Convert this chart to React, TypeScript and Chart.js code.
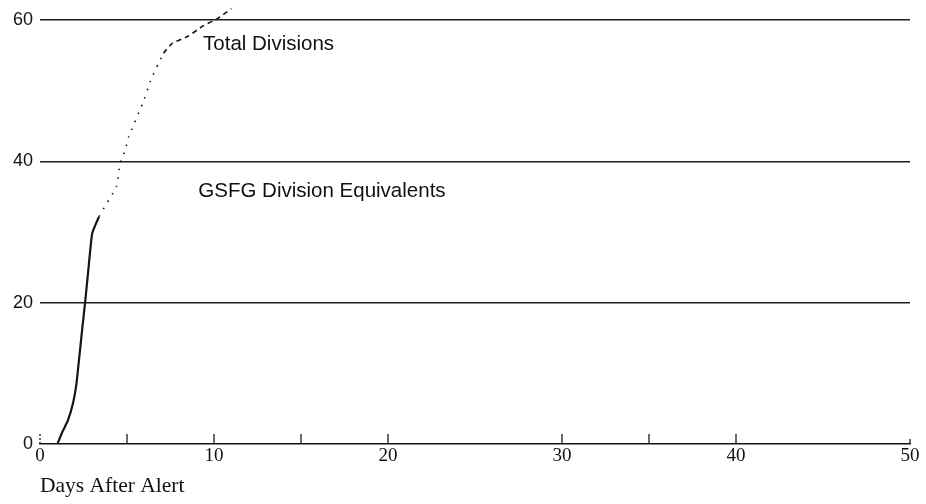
import React, { useEffect, useRef } from "react";
import { Chart, registerables } from "chart.js";

Chart.register(...registerables);

// Curve: days after alert vs. number of divisions
const curveDays = [1.0, 1.3, 1.6, 1.9, 2.1, 2.4, 2.6, 2.8, 3.0, 3.4, 4.4, 4.6, 4.9, 5.1, 5.9, 6.4, 6.8, 7.1, 7.6, 8.5, 9.4, 10.2, 11.0];
const curveDivisions = [0, 1.8, 3.3, 5.8, 8.6, 15.7, 20.2, 25.2, 29.8, 32.2, 36.5, 39.7, 41.6, 43.5, 48.2, 51.7, 53.8, 55.3, 56.7, 57.7, 59.2, 60.2, 61.6];

const xTickLabels = [0, 10, 20, 30, 40, 50];
const yTickLabels = [0, 20, 40, 60];
const xTickMarks = [0, 5, 10, 15, 20, 30, 35, 40, 50];

const xAxisTitle = "Days After Alert";
const curveLabels = ["Total Divisions", "GSFG Division Equivalents"];
const curveLabelDays = [9.37, 9.1];
const curveLabelValues = [56.5, 35.8];

const SOLID_UNTIL = 3.35;
const DOTTED_UNTIL = 7.0;

const overlayPlugin = {
  id: "overlay",
  afterDatasetsDraw(chart: any) {
    const { ctx, scales } = chart;
    const xs = scales.x;
    const ys = scales.y;
    const base = ys.getPixelForValue(0);
    ctx.save();
    ctx.strokeStyle = "#1a1a1a";
    ctx.lineWidth = 1.3;
    xTickMarks.forEach((v) => {
      const px = xs.getPixelForValue(v);
      ctx.beginPath();
      if (v === 0) ctx.setLineDash([2, 2]);
      else ctx.setLineDash([]);
      ctx.moveTo(px, base);
      ctx.lineTo(px, base - (v === 0 ? 12 : v === 50 ? 5 : 10));
      ctx.stroke();
    });
    ctx.setLineDash([]);
    ctx.fillStyle = "#111";
    ctx.font = "20.5px 'Liberation Sans'";
    ctx.textBaseline = "middle";
    ctx.textAlign = "left";
    curveLabels.forEach((t, i) => {
      ctx.fillText(t, xs.getPixelForValue(curveLabelDays[i]), ys.getPixelForValue(curveLabelValues[i]));
    });
    ctx.restore();
  },
};

export default function App() {
  const ref = useRef<HTMLCanvasElement | null>(null);

  useEffect(() => {
    document.body.style.margin = "0";
    const canvas = ref.current;
    if (!canvas) return;
    const points = curveDays.map((d, i) => ({ x: d, y: curveDivisions[i] }));
    const chart = new Chart(canvas, {
      type: "line",
      data: {
        datasets: [
          {
            data: points,
            borderColor: "#151515",
            borderWidth: 2,
            pointRadius: 0,
            tension: 0.15,
            clip: false as any,
            segment: {
              borderDash: (c: any) => {
                const x0 = c.p0.parsed.x;
                if (x0 < SOLID_UNTIL) return [];
                if (x0 < DOTTED_UNTIL) return [1.5, 7];
                return [5, 4];
              },
              borderWidth: (c: any) => (c.p0.parsed.x < SOLID_UNTIL ? 2.2 : 1.6),
            },
          },
        ],
      },
      options: {
        responsive: false,
        animation: false,
        layout: { padding: { top: 20, right: 16, bottom: 0, left: 0 } },
        plugins: { legend: { display: false }, tooltip: { enabled: false } },
        scales: {
          x: {
            type: "linear",
            min: 0,
            max: 50,
            afterBuildTicks: (s: any) => {
              s.ticks = xTickLabels.map((v) => ({ value: v }));
            },
            afterFit: (s: any) => {
              s.height = 60;
            },
            grid: { display: false, drawTicks: false, tickLength: 0 },
            border: { display: true, color: "#151515", width: 1.6 },
            ticks: {
              color: "#111",
              font: { family: "'Liberation Serif'", size: 19 },
              padding: 1,
              maxRotation: 0,
              autoSkip: false,
            },
            title: {
              display: true,
              text: xAxisTitle,
              align: "start",
              color: "#111",
              font: { family: "'Liberation Serif'", size: 21.5 },
              padding: { top: 4, bottom: 5 },
            },
          },
          y: {
            type: "linear",
            min: 0,
            max: 60,
            afterBuildTicks: (s: any) => {
              s.ticks = yTickLabels.map((v) => ({ value: v }));
            },
            afterFit: (s: any) => {
              s.width = 40;
            },
            grid: {
              color: (c: any) => (c.tick && c.tick.value === 0 ? "rgba(0,0,0,0)" : "#1e1e1e"),
              lineWidth: 1.4,
              drawTicks: false,
            },
            border: { display: false },
            ticks: {
              color: "#111",
              font: { family: "'Liberation Sans'", size: 18 },
              padding: 7,
            },
          },
        },
      },
      plugins: [overlayPlugin],
    });
    return () => chart.destroy();
  }, []);

  return <canvas ref={ref} width={926} height={504} style={{ display: "block" }} />;
}
